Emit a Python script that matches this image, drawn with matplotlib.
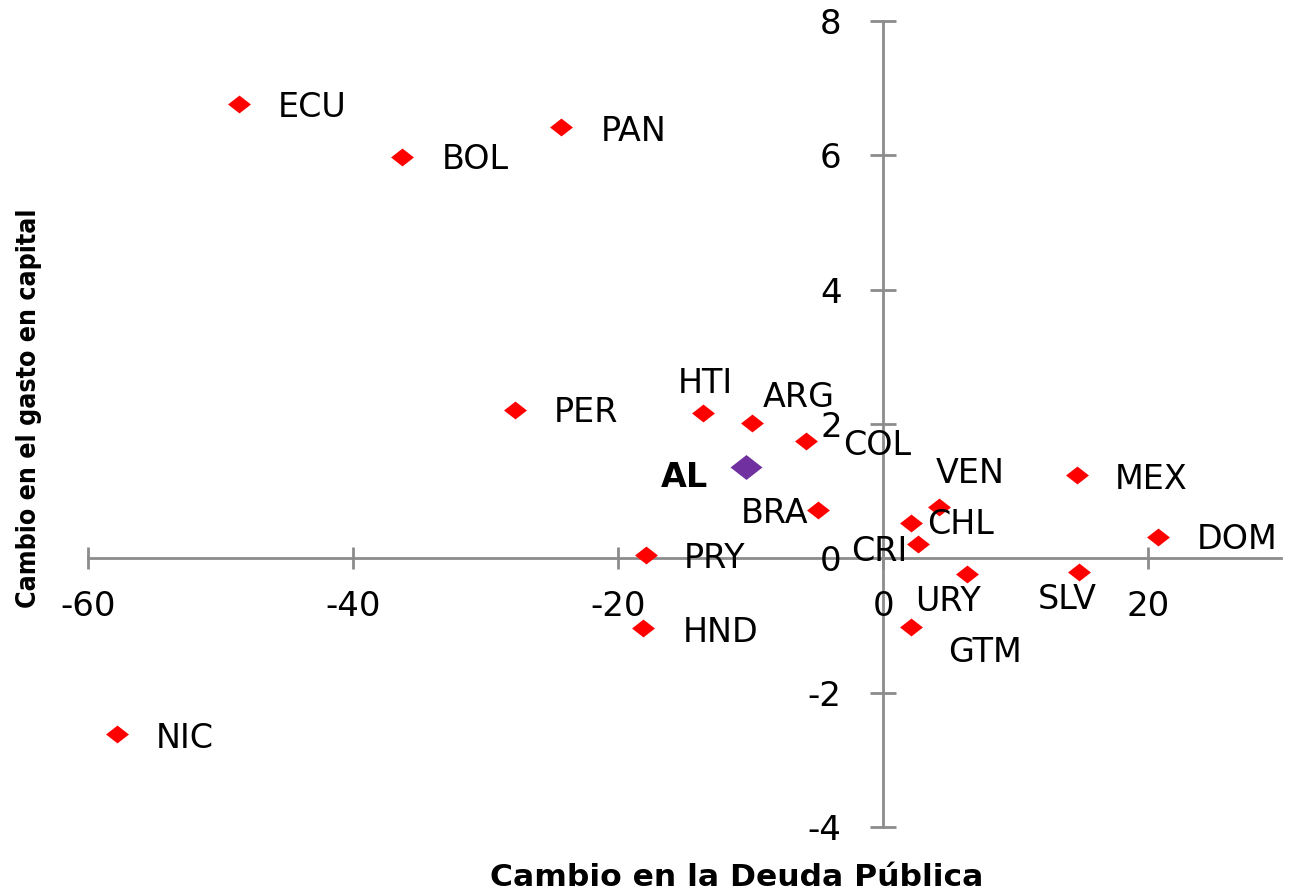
import os
import matplotlib
matplotlib.use('Agg')
import matplotlib.pyplot as plt
from matplotlib.path import Path
from matplotlib import font_manager

plt.rcParams['axes.unicode_minus'] = False
plt.rcParams['font.family'] = 'DejaVu Sans'

# ── data ──
paises = ['ECU', 'BOL', 'PAN', 'PER', 'HTI', 'ARG', 'COL', 'MEX', 'BRA', 'VEN',
          'CHL', 'DOM', 'CRI', 'PRY', 'URY', 'SLV', 'HND', 'GTM', 'NIC']
deuda = [-48.6, -36.3, -24.3, -27.8, -13.6, -9.9, -5.8, 14.6, -4.9, 4.2,
         2.1, 20.7, 2.6, -17.9, 6.3, 14.8, -18.1, 2.1, -57.8]
gasto = [6.76, 5.98, 6.42, 2.21, 2.16, 2.01, 1.74, 1.24, 0.72, 0.76,
         0.52, 0.32, 0.21, 0.05, -0.24, -0.21, -1.04, -1.02, -2.62]
al_deuda = [-10.4]
al_gasto = [1.36]

x_ticks = [-60, -40, -20, 0, 20]
y_ticks = [-4, -2, 0, 2, 4, 6, 8]

# label placement (pixel offsets from the point, horizontal alignment)
offsets = {
    'ECU': (38, -12.5, 'left'), 'BOL': (39, -12.5, 'left'), 'PAN': (39, -13.5, 'left'),
    'PER': (39, -12.5, 'left'), 'HTI': (2, 20.5, 'center'), 'ARG': (11, 16.5, 'left'),
    'COL': (37, -13.5, 'left'), 'MEX': (38, -14.5, 'left'), 'BRA': (-10, -13, 'right'),
    'VEN': (31, 24.5, 'center'), 'CHL': (16, -11, 'left'), 'DOM': (39, -12.5, 'left'),
    'CRI': (-10, -16.5, 'right'), 'PRY': (38, -13.5, 'left'), 'URY': (-19, -36.5, 'center'),
    'SLV': (-12, -36.5, 'center'), 'HND': (39, -13.5, 'left'), 'GTM': (37, -35.5, 'left'),
    'NIC': (38, -13.5, 'left'),
}

# flattened diamond marker
rombo = Path([(-1, 0), (0, 0.78), (1, 0), (0, -0.78), (-1, 0)],
             [Path.MOVETO, Path.LINETO, Path.LINETO, Path.LINETO, Path.CLOSEPOLY])

fig = plt.figure(figsize=(12.91, 8.96), dpi=100)
fig.patch.set_facecolor('white')
ax = fig.add_axes([0.0684, 0.0772, 0.9237, 0.8994])

ax.plot(deuda, gasto, linestyle='none', marker=rombo, markersize=16.5,
        color='#FF0000', markeredgewidth=0, zorder=3)
ax.plot(al_deuda, al_gasto, linestyle='none', marker=rombo, markersize=23,
        color='#7030A0', markeredgewidth=0, zorder=4)

for p, x, y in zip(paises, deuda, gasto):
    dx, dy, ha = offsets[p]
    ax.annotate(p, (x, y), xytext=(dx, dy), textcoords='offset pixels',
                ha=ha, va='baseline', fontsize=24, color='black', zorder=5)
ax.annotate('AL', (al_deuda[0], al_gasto[0]), xytext=(-37, -20),
            textcoords='offset pixels', ha='right', va='baseline',
            fontsize=24, fontweight='bold', color='black', zorder=5)

ax.set_xlim(-60, 30)
ax.set_ylim(-4, 8)
ax.set_xticks(x_ticks)
ax.set_yticks(y_ticks)

for s in ['top', 'right']:
    ax.spines[s].set_visible(False)
ax.spines['left'].set_position(('data', 0))
ax.spines['bottom'].set_position(('data', 0))
for s in ['left', 'bottom']:
    ax.spines[s].set_color('#8C8C8C')
    ax.spines[s].set_linewidth(2)
    ax.spines[s].set_zorder(1)

ax.tick_params(axis='y', direction='inout', length=19, width=2, color='#8C8C8C',
               pad=20.5, labelsize=24.5)
ax.tick_params(axis='x', direction='inout', length=16, width=2, color='#8C8C8C',
               pad=15, labelsize=24.5)
ax.patch.set_visible(False)

# axis titles -- the y title is condensed in the original
narrow_file = None
for f in font_manager.fontManager.ttflist:
    if os.path.basename(f.fname) in ('LiberationSansNarrow-Bold.ttf',
                                     'DejaVuSansCondensed-Bold.ttf'):
        narrow_file = f.fname
        if 'Liberation' in f.fname:
            break
if narrow_file:
    yfont = font_manager.FontProperties(fname=narrow_file, size=24)
else:
    yfont = font_manager.FontProperties(family='Liberation Sans', weight='bold', size=24)

xlab = fig.text(737 / 1291, 1 - 877 / 896, 'Cambio en la Deuda Pública', ha='center',
                va='center', fontsize=22.5, fontweight='bold')
ylab = fig.text(29 / 1291, 1 - 408 / 896, 'Cambio en el gasto en capital', ha='center',
                va='center', rotation=90, fontproperties=yfont)

# fit the titles to the lengths seen in the original
fig.canvas.draw()
r = fig.canvas.get_renderer()
ylab.set_fontsize(ylab.get_fontsize() * 400 / ylab.get_window_extent(r).height)
xlab.set_fontsize(xlab.get_fontsize() * 494 / xlab.get_window_extent(r).width)

fig.savefig('out.png', dpi=100, facecolor='white')
